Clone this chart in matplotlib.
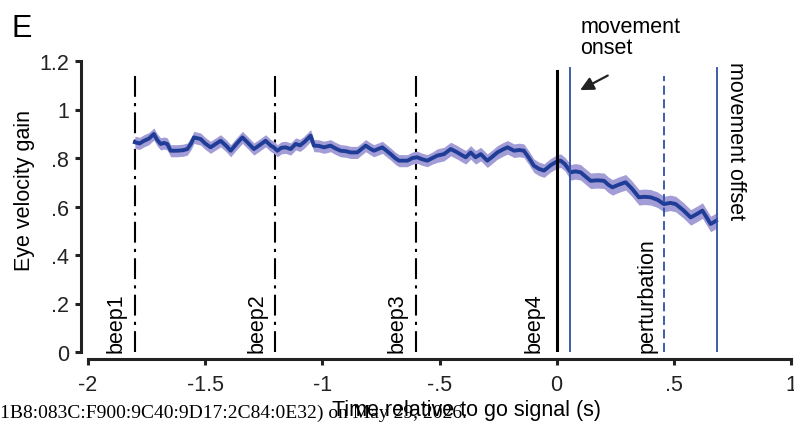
import matplotlib
matplotlib.use("Agg")
import numpy as np
import matplotlib.pyplot as plt

plt.rcParams['font.family'] = ['Liberation Sans', 'DejaVu Sans']

# mean eye velocity gain, time relative to go signal (s)
time_s = [-1.800, -1.780, -1.761, -1.740, -1.719, -1.705, -1.690, -1.675, -1.662,
          -1.647, -1.619, -1.595, -1.576, -1.560, -1.548, -1.519, -1.500, -1.477,
          -1.455, -1.434, -1.410, -1.391, -1.365, -1.341, -1.315, -1.292, -1.265,
          -1.242, -1.220, -1.207, -1.192, -1.175, -1.157, -1.135, -1.114, -1.095,
          -1.078, -1.050, -1.036, -1.015, -0.993, -0.965, -0.945, -0.922, -0.900,
          -0.879, -0.851, -0.815, -0.795, -0.780, -0.744, -0.708, -0.690, -0.673,
          -0.637, -0.615, -0.595, -0.575, -0.552, -0.530, -0.509, -0.481, -0.452,
          -0.424, -0.405, -0.388, -0.367, -0.346, -0.324, -0.296, -0.275, -0.253,
          -0.230, -0.210, -0.182, -0.160, -0.140, -0.118, -0.097, -0.075, -0.054,
          -0.026, 0.000, 0.017, 0.035, 0.060, 0.080, 0.102, 0.125, 0.145, 0.175,
          0.202, 0.220, 0.238, 0.265, 0.294, 0.320, 0.351, 0.375, 0.401, 0.430,
          0.458, 0.485, 0.508, 0.540, 0.572, 0.600, 0.622, 0.640, 0.657, 0.670,
          0.680]
gain = [0.865, 0.860, 0.871, 0.880, 0.899, 0.875, 0.858, 0.862, 0.858,
        0.830, 0.830, 0.832, 0.837, 0.860, 0.885, 0.878, 0.860, 0.844,
        0.858, 0.871, 0.850, 0.830, 0.860, 0.885, 0.860, 0.837, 0.855,
        0.871, 0.851, 0.844, 0.830, 0.842, 0.844, 0.837, 0.858, 0.852,
        0.865, 0.892, 0.851, 0.850, 0.844, 0.851, 0.840, 0.830, 0.828,
        0.823, 0.823, 0.851, 0.838, 0.830, 0.844, 0.816, 0.800, 0.789,
        0.789, 0.800, 0.803, 0.795, 0.789, 0.800, 0.810, 0.816, 0.837,
        0.823, 0.812, 0.803, 0.823, 0.803, 0.816, 0.789, 0.805, 0.823,
        0.835, 0.844, 0.830, 0.833, 0.830, 0.800, 0.768, 0.755, 0.748,
        0.770, 0.785, 0.789, 0.775, 0.741, 0.745, 0.741, 0.722, 0.706, 0.708,
        0.706, 0.690, 0.679, 0.690, 0.700, 0.675, 0.638, 0.640, 0.638, 0.628,
        0.610, 0.615, 0.610, 0.585, 0.555, 0.570, 0.583, 0.555, 0.528, 0.535,
        0.541]
# standard error of the mean around the trace
sem = [0.025] * 60 + [0.028] * 25 + [0.032] * (len(gain) - 85)

# event markers
beeps = [-1.8, -1.2, -0.6]
beep_names = ['beep1', 'beep2', 'beep3']
go_signal = 0.0
move_onset = 0.055
perturb = 0.457
move_offset = 0.683

xticks = [-2, -1.5, -1, -0.5, 0, 0.5, 1]
xticklabels = ['-2', '-1.5', '-1', '-.5', '0', '.5', '1']
yticks = [0, 0.2, 0.4, 0.6, 0.8, 1.0, 1.2]
yticklabels = ['0', '.2', '.4', '.6', '.8', '1', '1.2']

line_blue = '#1f3d96'
band_col = '#a29dd6'
event_blue = '#2f4fa6'
fs = 15.5

fig = plt.figure(figsize=(7.94, 4.31), dpi=100)
ax = fig.add_axes([88 / 794, 78 / 431, 703 / 794, 291 / 431])

t = np.array(time_s)
g = np.array(gain)
s = np.array(sem)
ax.fill_between(t, g - s, g + s, color=band_col, lw=0, zorder=2)
ax.plot(t, g, color=line_blue, lw=2.8, zorder=3)

for b, name in zip(beeps, beep_names):
    ax.plot([b, b], [0, 1.15], color='k', lw=1.5, ls=(0, (10, 3, 1.5, 3)), zorder=1)
    ax.text(b - 0.035, 0.0, name, rotation=90, ha='right', va='bottom', fontsize=fs)
ax.plot([go_signal, go_signal], [0, 1.16], color='k', lw=2.2, zorder=4)
ax.text(go_signal - 0.05, 0.0, 'beep4', rotation=90, ha='right', va='bottom', fontsize=fs)
ax.plot([move_onset, move_onset], [0, 1.17], color=event_blue, lw=1.3, zorder=4)
ax.plot([perturb, perturb], [0, 1.14], color=event_blue, lw=1.3, ls=(0, (5, 2.5)), zorder=4)
ax.text(perturb - 0.025, 0.0, 'perturbation', rotation=90, ha='right', va='bottom', fontsize=fs)
ax.plot([move_offset, move_offset], [0, 1.17], color=event_blue, lw=1.3, zorder=4)
ax.text(move_offset + 0.035, 1.2, 'movement offset', rotation=-90, ha='left', va='top', fontsize=fs)

ax.text(0.10, 1.385, 'movement\nonset', ha='left', va='top', fontsize=fs, linespacing=1.0)
ax.annotate('', xy=(0.100, 1.080), xytext=(0.218, 1.140),
            arrowprops=dict(arrowstyle='-|>', color='#222222', lw=1.6, mutation_scale=20,
                            shrinkA=0, shrinkB=0),
            annotation_clip=False)

ax.set_xlim(-2, 1)
ax.set_ylim(0, 1.2)
ax.set_xticks(xticks)
ax.set_xticklabels(xticklabels)
ax.set_yticks(yticks)
ax.set_yticklabels(yticklabels)
ax.tick_params(labelsize=fs, width=2.2, length=4.5, direction='out', colors='#222222')
ax.tick_params(axis='x', pad=6)
ax.tick_params(axis='y', pad=4)
for side in ['top', 'right']:
    ax.spines[side].set_visible(False)
for side in ['left', 'bottom']:
    ax.spines[side].set_position(('outward', 5))
    ax.spines[side].set_linewidth(2.2)
    ax.spines[side].set_color('#222222')

ax.set_xlabel('Time relative to go signal (s)', fontsize=fs)
ax.xaxis.set_label_coords(378 / 703, -0.16)
ax.set_ylabel('Eye velocity gain', fontsize=fs)
ax.yaxis.set_label_coords(-0.075, 0.56)

fig.text(12 / 794, 1 - 37 / 431, 'E', fontsize=22, va='baseline')
fig.text(0.0, 1 - 418 / 431, '1B8:083C:F900:9C40:9D17:2C84:0E32) on May 29, 2026.',
         family='Liberation Serif', fontsize=14, va='baseline')

fig.savefig('out.png', dpi=100)
